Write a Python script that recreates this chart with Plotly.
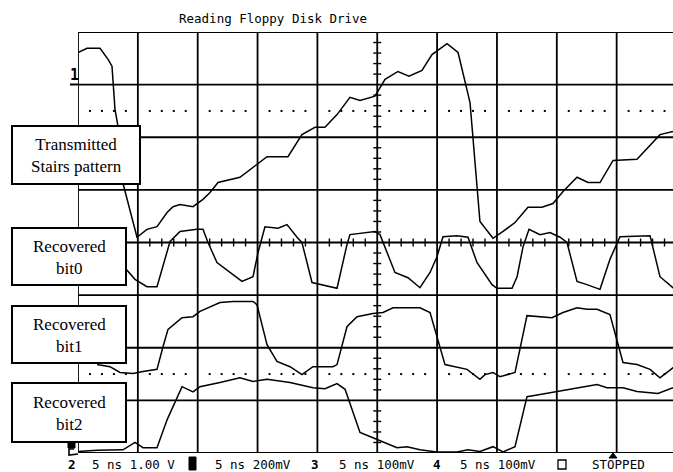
import plotly.graph_objects as go

# ---------------- data (time in ns, amplitude in screen divisions) ----------------
title_text = "Reading Floppy Disk Drive"
label_stairs = "Transmitted<br>Stairs pattern"
label_bit0 = "Recovered<br>bit0"
label_bit1 = "Recovered<br>bit1"
label_bit2 = "Recovered<br>bit2"

status_items = ["5 ns 1.00 V", "5 ns 200mV", "5 ns 100mV", "5 ns 100mV", "STOPPED"]
channel_marks = ["2", "3", "4"]

t_stairs = [0, 0.75, 1.84, 2.51, 2.84, 3.09, 3.34, 3.76, 4.93, 5.76, 6.60, 7.44, 7.94, 8.52,
            9.61, 10.44, 11.03, 11.70, 13.53, 14.62, 15.79, 17.54, 18.71, 19.80, 20.63, 21.64,
            22.72, 23.56, 24.81, 25.65, 26.73, 27.65, 28.74, 29.57, 30.83, 31.75, 32.75, 33.58,
            34.67, 35.51, 36.51, 37.59, 38.76, 39.68, 40.52, 41.69, 42.61, 43.61, 44.70, 46.70,
            48.62, 49.71, 50.0]
v_stairs = [3.61, 3.69, 3.69, 3.48, 3.35, 2.53, 2.21, 1.12, 0.10, 0.25, 0.30, 0.57, 0.68, 0.72,
            0.68, 0.82, 0.95, 1.14, 1.24, 1.43, 1.63, 1.63, 2.05, 2.19, 2.19, 2.43,
            2.76, 2.70, 2.78, 3.10, 3.25, 3.16, 3.27, 3.57, 3.78, 3.61, 2.66, 0.40,
            0.08, 0.21, 0.38, 0.67, 0.67, 0.74, 0.97, 1.24, 1.14, 1.14, 1.56, 1.58,
            2.05, 2.11, 2.13]

t_bit0 = [1.84, 4.18, 4.76, 5.76, 6.60, 7.69, 8.52, 9.94, 10.44, 10.86, 11.61, 13.70, 14.62,
          15.04, 15.62, 16.71, 17.46, 18.30, 18.71, 19.55, 21.64, 22.47, 22.72, 24.81, 25.23,
          26.48, 27.57, 28.57, 29.41, 29.99, 30.49, 31.66, 32.58, 33.33, 34.59, 35.00, 36.26,
          36.68, 37.18, 37.68, 38.60, 39.43, 40.27, 40.85, 41.69, 42.52, 43.61, 44.44, 45.28,
          47.79, 48.62, 49.71, 50.0]
v_bit0 = [0.06, -0.55, -0.70, -0.84, -0.84, 0.02, 0.21, 0.25, 0.25, 0.0, -0.38, -0.74, -0.65,
          -0.19, 0.30, 0.27, 0.34, 0.10, 0.0, -0.76, -0.87, -0.04, 0.15, 0.21, 0.15,
          -0.57, -0.67, -0.86, -0.57, -0.27, 0.11, 0.13, 0.10, -0.38, -0.80, -0.87, -0.87,
          -0.65, -0.08, 0.25, 0.15, 0.19, 0.10, 0.0, -0.74, -0.80, -0.89, -0.32, 0.11,
          0.13, -0.65, -0.86, -0.88]

t_bit1 = [1.59, 2.67, 3.51, 4.59, 5.43, 6.60, 7.10, 7.52, 8.69, 9.61, 10.19, 11.86, 12.95,
          14.62, 14.95, 15.79, 16.62, 17.71, 18.71, 19.63, 21.30, 21.64, 22.47, 23.31, 24.64,
          25.48, 26.32, 28.57, 29.41, 30.66, 32.50, 33.58, 34.00, 34.67, 35.25, 36.51, 37.51,
          38.60, 39.60, 40.52, 41.69, 42.52, 43.36, 44.44, 45.53, 46.70, 47.79, 48.62, 49.71, 50.0]
v_bit1 = [-2.32, -2.36, -2.47, -2.49, -2.45, -2.41, -1.98, -1.65, -1.43, -1.41, -1.31, -1.14, -1.12,
          -1.12, -1.18, -1.94, -2.26, -2.36, -2.51, -2.36, -2.36, -2.32, -1.60, -1.41, -1.35,
          -1.33, -1.24, -1.24, -1.33, -2.32, -2.41, -2.60, -2.51, -2.47, -2.55, -2.47, -1.39,
          -1.41, -1.43, -1.33, -1.24, -1.27, -1.27, -1.37, -2.28, -2.32, -2.41, -2.57, -2.38, -2.36]

t_bit2 = [0, 1.59, 3.76, 4.76, 5.43, 6.60, 7.44, 8.69, 9.61, 10.19, 11.86, 13.53, 14.62, 15.79,
          17.71, 19.63, 20.63, 21.64, 22.31, 23.56, 24.64, 25.65, 26.65, 27.49, 28.57, 29.99,
          31.66, 32.58, 33.58, 34.67, 35.51, 36.51, 37.51, 38.60, 40.02, 41.94, 43.36, 44.19,
          45.53, 46.70, 48.45, 49.71, 50.0]
v_bit2 = [-3.97, -3.95, -3.94, -3.80, -3.90, -3.90, -3.37, -2.74, -2.84, -2.74, -2.66, -2.57, -2.64,
          -2.60, -2.66, -2.76, -2.78, -2.68, -2.79, -3.61, -3.71, -3.80, -3.90, -3.88, -3.94,
          -3.98, -3.98, -3.94, -3.97, -3.88, -3.98, -3.88, -2.93, -2.89, -2.83, -2.76, -2.70,
          -2.76, -2.76, -2.83, -2.87, -2.76, -2.75]

ref_levels = [2.5, -2.5]          # dotted reference (ground) levels, divisions

# ---------------- layout geometry ----------------
W, H = 673, 472
ML, MR, MT, MB = 78, 0, 32, 19
PW, PH = W - ML - MR, H - MT - MB
NS_PER_DIV = 5
X_MAX = PW / 59.85 * NS_PER_DIV
Y_HALF = 4


def px(xp):
    return (xp - ML) / PW


def py(yp):
    return (H - MB - yp) / PH


fig = go.Figure()

line_style = dict(color="black", width=1.5)
for t, v in [(t_stairs, v_stairs), (t_bit0, v_bit0), (t_bit1, v_bit1), (t_bit2, v_bit2)]:
    fig.add_trace(go.Scatter(x=t, y=v, mode="lines", line=line_style,
                             hoverinfo="skip", showlegend=False))

# dotted reference lines
dx, dy = [], []
for lev in ref_levels:
    k = 1
    while k < X_MAX:
        if k % NS_PER_DIV != 0:
            dx.append(k)
            dy.append(lev)
        k += 1
fig.add_trace(go.Scatter(x=dx, y=dy, mode="markers",
                         marker=dict(symbol="square", size=2, color="black"),
                         hoverinfo="skip", showlegend=False))

shapes = []
gw = 1.8
# vertical grid lines
for i in range(0, 10):
    xv = i * NS_PER_DIV
    shapes.append(dict(type="line", xref="x", yref="paper", x0=xv, x1=xv, y0=0, y1=1,
                       line=dict(color="black", width=gw), layer="below"))
# horizontal grid lines
for j in range(-Y_HALF, Y_HALF + 1):
    shapes.append(dict(type="line", xref="paper", yref="y", x0=0, x1=1, y0=j, y1=j,
                       line=dict(color="black", width=gw), layer="below"))
# minor ticks on centre axes
xc = 5 * NS_PER_DIV
tick_h = 4 / 52.6
tick_w = 4 / 59.85 * NS_PER_DIV
k = 1
while k < X_MAX:
    if k % NS_PER_DIV != 0:
        shapes.append(dict(type="line", xref="x", yref="y", x0=k, x1=k, y0=-tick_h, y1=tick_h,
                           line=dict(color="black", width=1.4), layer="below"))
    k += 1
for m in range(-Y_HALF * 5 + 1, Y_HALF * 5):
    if m % 5 != 0:
        yv = m / 5
        shapes.append(dict(type="line", xref="x", yref="y", x0=xc - tick_w, x1=xc + tick_w,
                           y0=yv, y1=yv, line=dict(color="black", width=1.4), layer="below"))

# label boxes (pixel rectangles)
boxes = [((12, 126, 140, 184), label_stairs),
         ((12, 228, 126, 285), label_bit0),
         ((12, 306, 126, 363), label_bit1),
         ((12, 383, 126, 442), label_bit2)]
annotations = []
for (x0, y0, x1, y1), lab in boxes:
    shapes.append(dict(type="rect", xref="paper", yref="paper",
                       x0=px(x0), x1=px(x1), y0=py(y1), y1=py(y0),
                       line=dict(color="black", width=2), fillcolor="white", layer="above"))
    annotations.append(dict(xref="paper", yref="paper", x=px((x0 + x1) / 2), y=py((y0 + y1) / 2 + 0.5),
                            text=lab, showarrow=False, xanchor="center", yanchor="middle",
                            font=dict(family="Liberation Serif", size=17, color="black")))

# channel 1 ground marker
shapes.append(dict(type="line", xref="paper", yref="paper", x0=px(70), x1=px(78), y0=py(84.5), y1=py(84.5),
                   line=dict(color="black", width=2)))
annotations.append(dict(xref="paper", yref="paper", x=px(74.5), y=py(75), text="<b>1</b>",
                        showarrow=False, xanchor="center", yanchor="middle",
                        font=dict(family="DejaVu Sans Mono", size=15, color="black")))
# bottom-left markers
shapes.append(dict(type="rect", xref="paper", yref="paper", x0=px(68), x1=px(75), y0=py(448), y1=py(442),
                   line=dict(color="black", width=1), fillcolor="black"))
shapes.append(dict(type="path", xref="paper", yref="paper",
                   path=f"M {px(74)},{py(449)} L {px(69)},{py(449)} L {px(69)},{py(455)} L {px(78)},{py(454)}",
                   line=dict(color="black", width=1.6)))
# trigger marker
shapes.append(dict(type="path", xref="paper", yref="paper",
                   path=f"M {px(609)},{py(458)} L {px(617)},{py(458)} L {px(613)},{py(453)} Z",
                   line=dict(color="black", width=1), fillcolor="black"))
# inverse channel 1 indicator and empty box
shapes.append(dict(type="rect", xref="paper", yref="paper", x0=px(189), x1=px(196), y0=py(470), y1=py(457),
                   line=dict(color="black", width=1), fillcolor="black"))
shapes.append(dict(type="rect", xref="paper", yref="paper", x0=px(558), x1=px(566), y0=py(469), y1=py(460),
                   line=dict(color="black", width=1.3), fillcolor="white"))

mono = dict(family="DejaVu Sans Mono", size=12.5, color="black")
ty = py(464)
for xl, txt in zip([90, 213, 337, 458, 590], status_items):
    annotations.append(dict(xref="paper", yref="paper", x=px(xl), y=ty, text=txt, showarrow=False,
                            xanchor="left", yanchor="middle", font=mono))
for xc_, mk in zip([71.5, 315, 437], channel_marks):
    annotations.append(dict(xref="paper", yref="paper", x=px(xc_), y=ty, text=f"<b>{mk}</b>",
                            showarrow=False, xanchor="center", yanchor="middle", font=mono))
annotations.append(dict(xref="paper", yref="paper", x=px(273), y=py(19), text=title_text,
                        showarrow=False, xanchor="center", yanchor="middle", font=mono))

fig.update_layout(
    width=W, height=H, margin=dict(l=ML, r=MR, t=MT, b=MB, pad=0),
    paper_bgcolor="white", plot_bgcolor="white",
    xaxis=dict(range=[0, X_MAX], visible=False, showgrid=False, zeroline=False, fixedrange=True),
    yaxis=dict(range=[-Y_HALF, Y_HALF], visible=False, showgrid=False, zeroline=False, fixedrange=True),
    shapes=shapes, annotations=annotations, showlegend=False,
)

fig.write_html("out.html")
